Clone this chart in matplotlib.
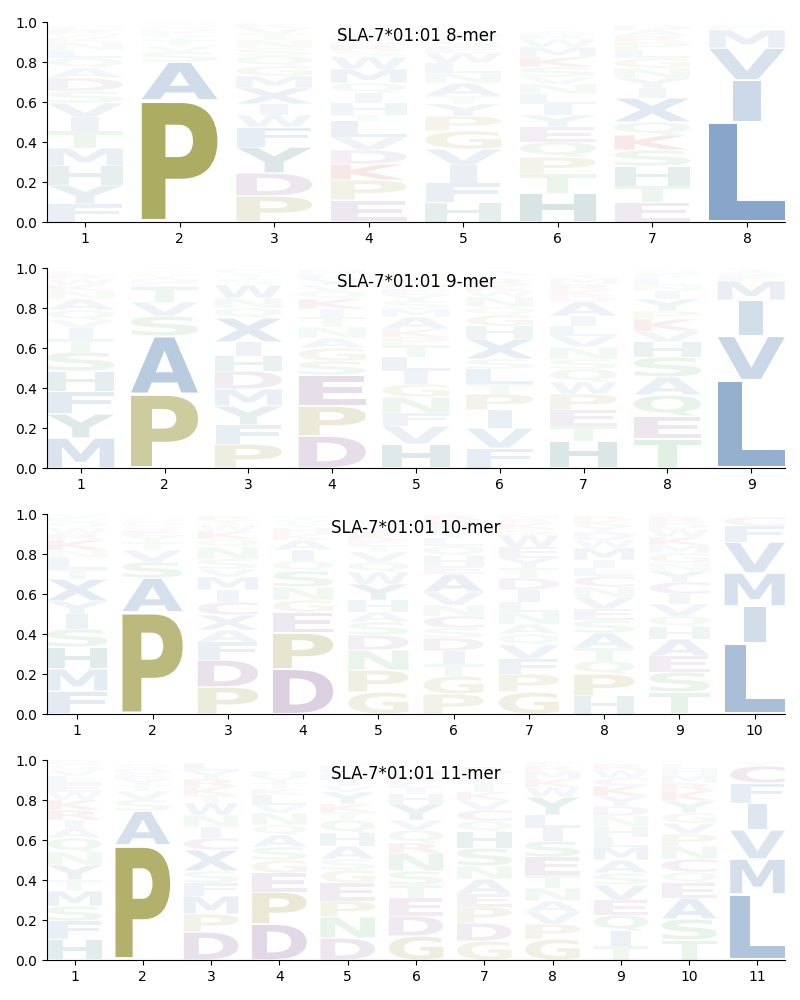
import matplotlib
matplotlib.use('Agg')
import matplotlib.pyplot as plt
from matplotlib.textpath import TextPath
from matplotlib.patches import PathPatch
from matplotlib.font_manager import FontProperties
from matplotlib.transforms import Affine2D

# letter probabilities per position, bottom -> top of each stack
mer8 = [
    [('F', .09), ('Y', .095), ('H', .095), ('M', .09), ('T', .085), ('I', .07), ('V', .07), ('S', .06), ('D', .065),
     ('A', .05), ('Q', .05), ('L', .04), ('N', .04), ('K', .02), ('W', .02), ('R', .02), ('E', .02)],
    [('P', .61), ('A', .19), ('S', .05), ('V', .03), ('T', .03), ('Y', .02), ('E', .02), ('D', .02), ('G', .02), ('Q', .01)],
    [('P', .13), ('D', .115), ('Y', .13), ('F', .1), ('W', .06), ('I', .055), ('X', .08), ('M', .06), ('G', .05),
     ('Q', .05), ('S', .04), ('N', .04), ('T', .03), ('V', .03), ('K', .02)],
    [('E', .11), ('P', .1), ('K', .08), ('D', .07), ('V', .065), ('L', .08), ('T', .03), ('H', .06), ('I', .05),
     ('Q', .05), ('M', .07), ('W', .06), ('S', .03), ('R', .03), ('N', .02), ('G', .02), ('A', .02)],
    [('H', .1), ('F', .095), ('I', .09), ('V', .08), ('G', .09), ('P', .075), ('Y', .06), ('T', .04), ('A', .065),
     ('N', .05), ('L', .05), ('W', .05), ('E', .03), ('S', .03), ('K', .02), ('M', .02)],
    [('H', .145), ('T', .095), ('P', .085), ('Q', .075), ('E', .075), ('Y', .06), ('I', .055), ('L', .05), ('N', .05),
     ('V', .035), ('S', .05), ('K', .05), ('M', .05), ('W', .04), ('R', .02), ('A', .02)],
    [('E', .1), ('T', .08), ('H', .1), ('S', .08), ('K', .075), ('Q', .065), ('X', .12), ('I', .05), ('Y', .05),
     ('N', .05), ('G', .05), ('L', .04), ('P', .04), ('R', .03), ('A', .03), ('D', .025)],
    [('L', .5), ('I', .21), ('V', .16), ('M', .09), ('F', .02), ('Y', .01), ('A', .01)],
]

mer9 = [
    [('M', .15), ('Y', .12), ('F', .115), ('H', .1), ('S', .095), ('T', .065), ('I', .055), ('V', .04), ('Q', .05),
     ('A', .055), ('N', .04), ('K', .03), ('W', .03), ('R', .02), ('L', .02)],
    [('P', .37), ('A', .29), ('S', .1), ('V', .07), ('T', .075), ('E', .02), ('D', .02), ('Y', .02), ('G', .02)],
    [('P', .12), ('F', .095), ('Y', .095), ('M', .085), ('D', .09), ('H', .075), ('I', .07), ('X', .12), ('Q', .05),
     ('N', .05), ('W', .065), ('S', .03), ('T', .02), ('V', .02), ('R', .01)],
    [('D', .16), ('P', .15), ('E', .155), ('S', .07), ('G', .065), ('A', .05), ('N', .055), ('T', .05), ('I', .04),
     ('K', .05), ('Q', .04), ('V', .03), ('Y', .03), ('L', .025), ('M', .02)],
    [('H', .12), ('V', .09), ('F', .065), ('N', .08), ('G', .065), ('I', .065), ('L', .07), ('T', .06), ('P', .04),
     ('K', .04), ('A', .06), ('M', .04), ('S', .04), ('Y', .03), ('E', .03), ('Q', .03), ('R', .02)],
    [('F', .1), ('V', .1), ('I', .09), ('P', .08), ('T', .05), ('L', .075), ('S', .05), ('X', .1), ('H', .065),
     ('G', .055), ('Q', .04), ('N', .05), ('W', .03), ('K', .03), ('R', .03), ('E', .02), ('A', .02)],
    [('H', .135), ('T', .075), ('E', .08), ('P', .08), ('W', .06), ('Q', .065), ('S', .05), ('N', .06), ('V', .055),
     ('L', .05), ('I', .05), ('A', .07), ('D', .03), ('K', .03), ('R', .03), ('M', .03), ('Y', .02)],
    [('T', .145), ('E', .115), ('Q', .105), ('A', .09), ('S', .1), ('H', .075), ('V', .055), ('K', .06), ('P', .04),
     ('Y', .06), ('I', .04), ('N', .03), ('L', .03), ('F', .025), ('G', .02)],
    [('L', .44), ('V', .22), ('I', .18), ('M', .095), ('F', .03), ('A', .02), ('Y', .015)],
]

mer10 = [
    [('F', .115), ('M', .11), ('H', .11), ('S', .09), ('I', .075), ('Y', .065), ('X', .11), ('T', .05), ('L', .055),
     ('N', .04), ('K', .05), ('R', .03), ('W', .03), ('Q', .03), ('E', .02), ('V', .02)],
    [('P', .51), ('A', .17), ('S', .08), ('V', .06), ('T', .04), ('Y', .03), ('E', .03), ('Q', .02), ('D', .02), ('G', .02)],
    [('P', .135), ('D', .135), ('F', .09), ('A', .06), ('X', .075), ('C', .065), ('I', .06), ('M', .065), ('V', .04),
     ('S', .05), ('N', .06), ('Q', .04), ('K', .04), ('W', .03), ('T', .025), ('R', .02)],
    [('D', .225), ('P', .18), ('E', .105), ('G', .06), ('N', .065), ('S', .08), ('Q', .05), ('I', .055), ('A', .05),
     ('K', .03), ('H', .03), ('Y', .02), ('V', .02), ('T', .02)],
    [('G', .11), ('P', .11), ('N', .1), ('D', .075), ('S', .065), ('A', .05), ('H', .06), ('Y', .08), ('W', .06),
     ('Q', .05), ('V', .05), ('T', .03), ('E', .03), ('K', .03), ('I', .03), ('M', .02), ('L', .02)],
    [('P', .1), ('G', .09), ('T', .06), ('I', .065), ('D', .065), ('S', .05), ('C', .06), ('N', .055), ('V', .065),
     ('A', .09), ('E', .04), ('H', .05), ('Q', .05), ('L', .04), ('Y', .03), ('F', .03), ('K', .03), ('R', .025)],
    [('G', .11), ('P', .09), ('F', .075), ('V', .07), ('Q', .055), ('A', .05), ('N', .06), ('L', .05), ('I', .06),
     ('D', .06), ('T', .05), ('Y', .05), ('E', .055), ('W', .06), ('S', .03), ('K', .03), ('R', .02), ('M', .02)],
    [('H', .09), ('P', .11), ('Q', .065), ('T', .065), ('A', .075), ('S', .065), ('E', .055), ('V', .06), ('N', .05),
     ('C', .055), ('L', .04), ('I', .04), ('M', .06), ('W', .04), ('D', .04), ('Y', .03), ('K', .03), ('R', .02)],
    [('T', .11), ('S', .1), ('E', .08), ('A', .085), ('H', .06), ('Q', .055), ('V', .06), ('I', .05), ('C', .06),
     ('Y', .055), ('N', .04), ('G', .05), ('M', .04), ('K', .04), ('W', .04), ('D', .03), ('R', .03), ('L', .015)],
    [('L', .355), ('I', .185), ('M', .165), ('V', .155), ('F', .08), ('C', .045)],
]

mer11 = [
    [('H', .105), ('F', .09), ('S', .075), ('M', .075), ('T', .055), ('Y', .075), ('N', .065), ('Q', .07), ('A', .05),
     ('I', .04), ('R', .05), ('K', .05), ('W', .04), ('E', .04), ('L', .04), ('V', .03), ('G', .03), ('D', .02)],
    [('P', .575), ('A', .17), ('S', .055), ('V', .045), ('T', .03), ('Y', .03), ('E', .025), ('D', .025), ('Q', .025)],
    [('D', .14), ('P', .09), ('M', .09), ('F', .065), ('S', .06), ('X', .105), ('C', .06), ('I', .055), ('N', .06),
     ('W', .06), ('T', .04), ('K', .04), ('R', .04), ('Y', .04), ('L', .04)],
    [('D', .18), ('P', .16), ('E', .095), ('G', .065), ('S', .065), ('A', .06), ('Q', .05), ('N', .06), ('V', .04),
     ('L', .05), ('K', .03), ('T', .03), ('Y', .03), ('H', .03)],
    [('D', .11), ('N', .105), ('P', .08), ('E', .09), ('G', .065), ('S', .055), ('A', .065), ('H', .065), ('Q', .065),
     ('T', .04), ('K', .04), ('Y', .06), ('V', .03), ('I', .03), ('L', .03), ('M', .025), ('F', .02)],
    [('G', .12), ('D', .1), ('E', .09), ('T', .065), ('S', .07), ('N', .09), ('R', .05), ('Q', .065), ('V', .05),
     ('Y', .08), ('H', .05), ('I', .03), ('L', .03), ('K', .03), ('M', .03)],
    [('G', .095), ('D', .09), ('P', .08), ('E', .065), ('A', .075), ('N', .065), ('S', .09), ('H', .08), ('Q', .055),
     ('C', .055), ('V', .05), ('K', .04), ('I', .04), ('L', .03), ('T', .03), ('R', .025)],
    [('G', .105), ('P', .075), ('V', .06), ('A', .055), ('N', .065), ('T', .065), ('E', .09), ('S', .08), ('I', .065),
     ('L', .065), ('Y', .09), ('W', .05), ('K', .04), ('M', .04), ('R', .025), ('F', .02)],
    [('T', .07), ('I', .075), ('Q', .08), ('E', .075), ('V', .075), ('S', .06), ('A', .065), ('M', .065), ('L', .05),
     ('H', .05), ('N', .055), ('D', .05), ('Y', .05), ('K', .05), ('C', .04), ('W', .04), ('R', .03)],
    [('T', .1), ('S', .105), ('A', .105), ('E', .075), ('Q', .055), ('C', .065), ('N', .065), ('P', .06), ('V', .055),
     ('G', .05), ('Y', .06), ('K', .05), ('R', .04), ('M', .04), ('H', .03), ('L', .025)],
    [('L', .33), ('M', .175), ('V', .145), ('I', .135), ('F', .1), ('C', .085), ('Y', .02), ('A', .01)],
]

motifs = [mer8, mer9, mer10, mer11]
titles = ['SLA-7*01:01 8-mer', 'SLA-7*01:01 9-mer', 'SLA-7*01:01 10-mer', 'SLA-7*01:01 11-mer']

colors = {}
for c in 'AVILMFWX':
    colors[c] = '#5f88b7'
for c in 'PG':
    colors[c] = '#a6a454'
for c in 'DE':
    colors[c] = '#9771a3'
for c in 'KR':
    colors[c] = '#c83c3c'
for c in 'STNQ':
    colors[c] = '#72bb7b'
for c in 'HY':
    colors[c] = '#528989'
colors['C'] = '#9a5a96'

FONT = FontProperties(family='DejaVu Sans', weight='bold')
REF_W = TextPath((0, 0), 'E', size=1, prop=FONT).get_extents().width


def draw_letter(ax, ch, x, y0, h, width=0.8, vpad=0.05):
    path = TextPath((0, 0), ch, size=1, prop=FONT)
    bb = path.get_extents()
    sx = min(width / bb.width, width / REF_W)
    sy = h * (1 - vpad) / bb.height
    gw = bb.width * sx
    t = Affine2D().translate(-bb.x0, -bb.y0).scale(sx, sy).translate(x - gw / 2, y0 + h * vpad / 2)
    a = min(1.0, 1.5 * h)
    ax.add_patch(PathPatch(t.transform_path(path), fc=colors[ch], ec='none', lw=0, alpha=a))


fig = plt.figure(figsize=(8, 10), dpi=100)
bottoms = [0.778, 0.532, 0.286, 0.040]

for motif, title, b in zip(motifs, titles, bottoms):
    ax = fig.add_axes([0.059, b, 0.922, 0.2])
    for i, col in enumerate(motif):
        y = 0.0
        for ch, p in col:
            draw_letter(ax, ch, i + 1, y, p)
            y += p
    n = len(motif)
    ax.set_xlim(0.6, n + 0.4)
    ax.set_ylim(0, 1)
    ax.set_xticks(range(1, n + 1))
    ax.set_yticks([0, 0.2, 0.4, 0.6, 0.8, 1.0])
    ax.spines['top'].set_visible(False)
    ax.spines['right'].set_visible(False)
    ax.text(0.5, 0.93, title, transform=ax.transAxes, ha='center', va='center', fontsize=12, zorder=10)

plt.savefig('out.png')
plt.close()
